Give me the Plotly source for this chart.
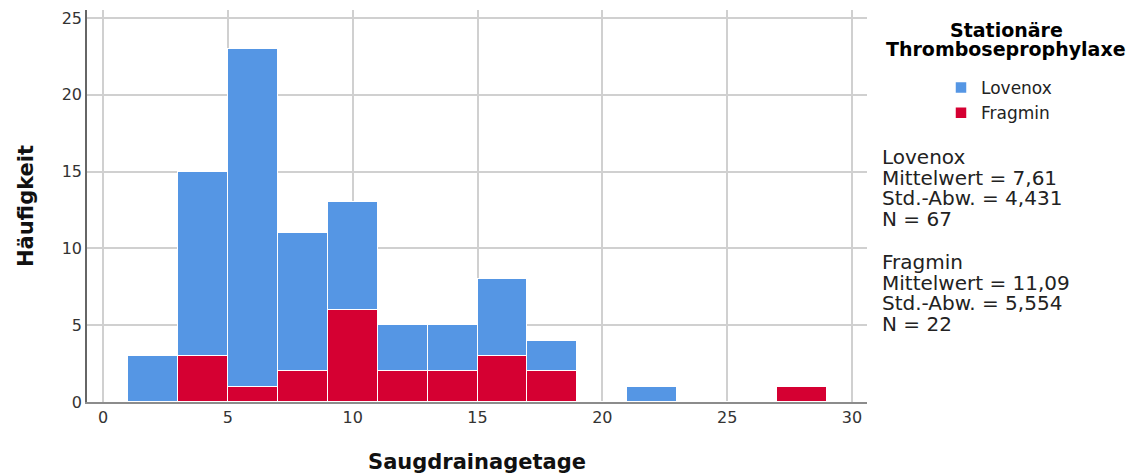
import plotly.graph_objects as go

bin_centers = [2, 4, 6, 8, 10, 12, 14, 16, 18, 20, 22, 24, 26, 28]
lovenox = [3, 12, 22, 9, 7, 3, 3, 5, 2, 0, 1, 0, 0, 0]
fragmin = [0, 3, 1, 2, 6, 2, 2, 3, 2, 0, 0, 0, 0, 1]
series_names = ["Lovenox", "Fragmin"]
colors = {"Lovenox": "#5596E4", "Fragmin": "#D50032"}
stats = {
    "Lovenox": ["Lovenox", "Mittelwert = 7,61", "Std.-Abw. = 4,431", "N = 67"],
    "Fragmin": ["Fragmin", "Mittelwert = 11,09", "Std.-Abw. = 5,554", "N = 22"],
}
x_ticks = [0, 5, 10, 15, 20, 25, 30]
y_ticks = [0, 5, 10, 15, 20, 25]
legend_title = ["Stationäre", "Thromboseprophylaxe"]

FONT = "DejaVu Sans"
fig = go.Figure()
for name, vals in (("Fragmin", fragmin), ("Lovenox", lovenox)):
    fig.add_trace(go.Bar(
        x=bin_centers, y=vals, width=2, name=name,
        marker=dict(color=colors[name], line=dict(color="white", width=1.5)),
    ))

OFF = 8  # page body margin
W, H = 1139 - OFF, 474 - OFF
L, R, T, B = 87 - OFF, 867 - OFF, 10 - OFF, 402 - OFF

def px_x(p):
    return (p - OFF - L) / (R - L)

def px_y(p):
    return (B - (p - OFF)) / (B - T)

annotations = []
for i, txt in enumerate(legend_title):
    annotations.append(dict(
        x=px_x(1006), y=px_y(30 + 19.5 * i), xref="paper", yref="paper",
        text="<b>" + txt + "</b>", showarrow=False, xanchor="center", yanchor="middle",
        font=dict(family=FONT, size=19, color="#000000"),
    ))
for g, name in enumerate(series_names):
    for i, txt in enumerate(stats[name]):
        annotations.append(dict(
            x=px_x(880), y=px_y(157 + 105 * g + 20.7 * i), xref="paper", yref="paper",
            text=txt, showarrow=False, xanchor="left", yanchor="middle",
            font=dict(family=FONT, size=20, color="#222222"),
        ))

fig.update_layout(
    width=W, height=H,
    margin=dict(l=L, r=W - R, t=T, b=H - B, autoexpand=False),
    barmode="stack", bargap=0,
    plot_bgcolor="white", paper_bgcolor="white",
    font=dict(family=FONT, color="#222222"),
    showlegend=True,
    legend=dict(
        x=px_x(941), y=px_y(70), xanchor="left", yanchor="top",
        traceorder="reversed", font=dict(family=FONT, size=17, color="#222222"),
        bgcolor="rgba(0,0,0,0)", itemclick=False, tracegroupgap=0,
    ),
    xaxis=dict(
        range=[-0.64, 30.6], tickvals=x_ticks, ticktext=[str(v) for v in x_ticks],
        showgrid=True, gridcolor="#D0D0D0", gridwidth=1.5,
        showline=True, linecolor="#8C8C8C", linewidth=1.5,
        zeroline=False, ticks="", tickfont=dict(size=16, color="#333333"),
        automargin=False,
        title=dict(text="<b>Saugdrainagetage</b>", font=dict(size=21, color="#111111"), standoff=28),
    ),
    yaxis=dict(
        range=[0, 25.52], tickvals=y_ticks, ticktext=[str(v) for v in y_ticks],
        showgrid=True, gridcolor="#D0D0D0", gridwidth=1.5,
        showline=True, linecolor="#666666", linewidth=1.5,
        zeroline=False, ticks="", tickfont=dict(size=16, color="#333333"),
        automargin=False,
        title=dict(text="<b>Häufigkeit</b>", font=dict(size=21, color="#111111"), standoff=22),
    ),
    annotations=annotations,
)

fig.write_html("out.html")
